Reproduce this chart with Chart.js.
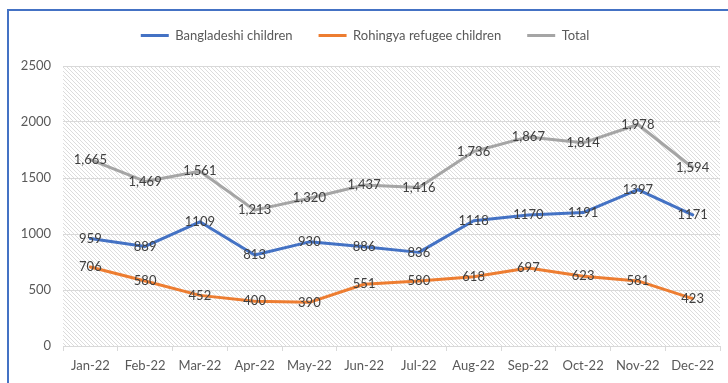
<!DOCTYPE html>
<html>
<head>
<meta charset="utf-8">
<script src="https://cdn.jsdelivr.net/npm/chart.js@4"></script>
<style>
  body { margin: 0; background: #fff; }
  #wrap { position: relative; width: 728px; height: 383px; overflow: hidden; }
  #frame {
    position: absolute; left: 7px; top: 9px; width: 760px; height: 372px;
    border-top: 2px solid #4472C4; border-left: 2px solid #4472C4; border-bottom: 1px solid #d9d9d9;
    pointer-events: none;
  }
</style>
</head>
<body>
<div id="wrap">
  <canvas id="myChart" width="728" height="383"></canvas>
  <div id="frame"></div>
</div>
<script>
var months = ["Jan-22", "Feb-22", "Mar-22", "Apr-22", "May-22", "Jun-22", "Jul-22", "Aug-22", "Sep-22", "Oct-22", "Nov-22", "Dec-22"];
var bangladeshi = [959, 889, 1109, 813, 930, 886, 836, 1118, 1170, 1191, 1397, 1171];
var rohingya = [706, 580, 452, 400, 390, 551, 580, 618, 697, 623, 581, 423];
var total = [1665, 1469, 1561, 1213, 1320, 1437, 1416, 1736, 1867, 1814, 1978, 1594];
var yTicks = [0, 500, 1000, 1500, 2000, 2500];

var fontFam = "Lato, 'Open Sans', sans-serif";

// diagonal hatch for the plot area, like the excel pattern fill
var tile = document.createElement('canvas');
tile.width = 4; tile.height = 4;
var tc = tile.getContext('2d');
tc.fillStyle = '#ffffff';
tc.fillRect(0, 0, 4, 4);
tc.strokeStyle = '#dcdcdc';
tc.lineWidth = 1;
tc.beginPath();
tc.moveTo(-1, -1); tc.lineTo(5, 5);
tc.moveTo(-1, 3); tc.lineTo(1, 5);
tc.moveTo(3, -1); tc.lineTo(5, 1);
tc.stroke();

var hatchPlugin = {
  id: 'hatch',
  beforeDraw: function(chart) {
    var a = chart.chartArea;
    var c = chart.ctx;
    c.save();
    c.fillStyle = c.createPattern(tile, 'repeat');
    c.fillRect(a.left, a.top, a.right - a.left, a.bottom - a.top);
    c.restore();
  }
};

// values written on top of each point
var labelPlugin = {
  id: 'valueLabels',
  afterDatasetsDraw: function(chart) {
    var c = chart.ctx;
    c.save();
    c.font = '13px ' + fontFam;
    c.fillStyle = '#404040';
    c.textAlign = 'center';
    c.textBaseline = 'middle';
    chart.data.datasets.forEach(function(ds, i) {
      chart.getDatasetMeta(i).data.forEach(function(pt, j) {
        var v = ds.data[j];
        var txt = ds.commaLabels ? v.toLocaleString('en-US') : String(v);
        c.fillText(txt, pt.x, pt.y);
      });
    });
    c.restore();
  }
};

// leave a gap under the legend
var legendGap = {
  id: 'legendGap',
  afterInit: function(chart) {
    var fit = chart.legend.fit;
    chart.legend.fit = function() {
      fit.call(this);
      this.height += 14;
    };
  }
};

var ctx = document.getElementById('myChart');

var myChart = new Chart(ctx, {
  type: 'line',
  data: {
    labels: months,
    datasets: [{
      label: 'Bangladeshi children',
      data: bangladeshi,
      borderColor: '#4472C4',
      backgroundColor: '#4472C4',
      borderWidth: 3,
      pointRadius: 0,
      borderJoinStyle: 'round',
      borderCapStyle: 'round'
    }, {
      label: 'Rohingya refugee children',
      data: rohingya,
      borderColor: '#ED7D31',
      backgroundColor: '#ED7D31',
      borderWidth: 3,
      pointRadius: 0,
      borderJoinStyle: 'round',
      borderCapStyle: 'round'
    }, {
      label: 'Total',
      data: total,
      commaLabels: true,
      borderColor: '#A5A5A5',
      backgroundColor: '#A5A5A5',
      borderWidth: 3,
      pointRadius: 0,
      borderJoinStyle: 'round',
      borderCapStyle: 'round'
    }]
  },
  options: {
    responsive: false,
    animation: false,
    devicePixelRatio: 1,
    layout: { padding: { left: 10, right: 8, top: 3, bottom: 10 } },
    plugins: {
      tooltip: { enabled: false },
      legend: {
        position: 'top',
        labels: {
          usePointStyle: true,
          pointStyle: 'line',
          pointStyleWidth: 28,
          padding: 26,
          color: '#595959',
          font: { family: fontFam, size: 13 }
        }
      }
    },
    scales: {
      x: {
        offset: true,
        grid: { display: true, offset: true, drawOnChartArea: false, drawTicks: true, tickLength: 5, color: '#d9d9d9' },
        border: { display: true, color: '#d9d9d9', width: 1 },
        ticks: { color: '#595959', font: { family: fontFam, size: 13 }, padding: 7, maxRotation: 0, autoSkip: false },
        afterFit: function(s) { s.height = 27; }
      },
      y: {
        min: 0,
        max: 2500,
        afterBuildTicks: function(s) { s.ticks = yTicks.map(function(v) { return { value: v }; }); },
        grid: { color: '#d9d9d9', drawTicks: false },
        border: { display: false },
        ticks: {
          color: '#595959',
          font: { family: fontFam, size: 13 },
          padding: 12,
          callback: function(v) { return String(v); }
        },
        afterFit: function(s) { s.width = 53; }
      }
    }
  },
  plugins: [hatchPlugin, labelPlugin, legendGap]
});
</script>
</body>
</html>
